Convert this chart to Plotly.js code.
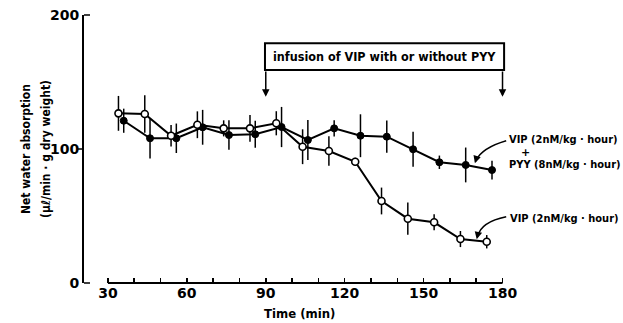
<!DOCTYPE html>
<html><head><meta charset="utf-8">
<script src="https://cdn.plot.ly/plotly-3.0.1.min.js"></script>
<style>body{margin:0;background:#fff}</style>
</head><body><div id="chart" style="width:623px;height:323px"></div>
<script>
// ---- data ----
const timeVIP = [34, 44, 54, 64, 74, 84, 94, 104, 114, 124, 134, 144, 154, 164, 174];
const vipOnly = [126.6, 126.1, 109.9, 118.1, 115.4, 115.4, 119.2, 101.7, 98.5, 90.5, 61.2, 48.0, 45.3, 32.8, 30.8];
const vipOnlyErr = [13, 14, 8, 10, 6, 10, 9, 13, 11, 3, 10, 12, 6, 6, 5];
const timeVIPPYY = [36, 46, 56, 66, 76, 86, 96, 106, 116, 126, 136, 146, 156, 166, 176];
const vipPyy = [121.1, 108.0, 108.0, 116.2, 110.4, 111.0, 116.4, 106.7, 115.4, 109.9, 109.2, 99.8, 90.1, 88.1, 84.3];
const vipPyyErr = [9, 15, 11, 13, 11, 10, 15, 15, 6, 16, 12, 13, 5, 13, 7];
const xTickVals = [30, 40, 50, 60, 70, 80, 90, 100, 110, 120, 130, 140, 150, 160, 170, 180];
const xTickText = ['30', '', '', '60', '', '', '90', '', '', '120', '', '', '150', '', '', '180'];
const yTickVals = [0, 100, 200];
const yTickText = ['0', '100', '200'];
const infusionStart = 90, infusionEnd = 180;
const boxText = 'infusion of VIP with or without PYY';
const labelVipPyy1 = 'VIP (2nM/kg · hour)';
const labelVipPyy2 = 'PYY (8nM/kg · hour)';
const labelVip = 'VIP (2nM/kg · hour)';

// ---- layout helpers ----
const xRange = [20.9, 225.8];
const yRange = [0, 200];
const toPx = t => (t - xRange[0]) / (xRange[1] - xRange[0]);
const toPy = v => (v - yRange[0]) / (yRange[1] - yRange[0]);
const lblFont = {family: 'DejaVu Sans Condensed, DejaVu Sans', size: 11, color: '#000', weight: 'bold'};

const traces = [
  {
    x: timeVIPPYY, y: vipPyy, type: 'scatter', mode: 'lines+markers',
    line: {color: '#000', width: 2},
    marker: {color: '#000', size: 7, line: {color: '#000', width: 1}},
    error_y: {type: 'data', array: vipPyyErr, visible: true, color: '#000', thickness: 1.5, width: 0},
    cliponaxis: false, hoverinfo: 'skip'
  },
  {
    x: timeVIP, y: vipOnly, type: 'scatter', mode: 'lines+markers',
    line: {color: '#000', width: 2},
    marker: {color: '#fff', size: 7, line: {color: '#000', width: 1.6}},
    error_y: {type: 'data', array: vipOnlyErr, visible: true, color: '#000', thickness: 1.5, width: 0},
    cliponaxis: false, hoverinfo: 'skip'
  }
];

const shapes = [
  // x axis line from 30 to 180
  {type: 'line', xref: 'paper', yref: 'paper', x0: toPx(xTickVals[0]), x1: toPx(xTickVals[xTickVals.length-1]), y0: 0, y1: 0, line: {color: '#000', width: 2}},
  // y ticks
  {type: 'line', xref: 'paper', yref: 'paper', xsizemode: 'pixel', xanchor: 0, x0: 0, x1: 6, y0: toPy(200), y1: toPy(200), line: {color: '#000', width: 1.5}},
  {type: 'line', xref: 'paper', yref: 'paper', xsizemode: 'pixel', xanchor: 0, x0: -6, x1: 0, y0: toPy(100), y1: toPy(100), line: {color: '#000', width: 1.5}},
  {type: 'line', xref: 'paper', yref: 'paper', xsizemode: 'pixel', xanchor: 0, x0: 0, x1: 6, y0: toPy(0), y1: toPy(0), line: {color: '#000', width: 1.5}},
  // infusion box
  {type: 'rect', xref: 'x', yref: 'y', x0: infusionStart - 0.3, x1: infusionEnd + 0.6, y0: 159, y1: 179, line: {color: '#000', width: 2}, fillcolor: 'rgba(0,0,0,0)'},
  // curved pointer lines
  {type: 'path', xref: 'x', yref: 'y', path: 'M 181.4,106.2 Q 172.2,100.9 169.9,91.5', line: {color: '#000', width: 1.5}},
  {type: 'path', xref: 'x', yref: 'y', path: 'M 181.4,49.5 Q 171.8,45.6 170.6,35', line: {color: '#000', width: 1.5}}
];

const annotations = [
  {x: infusionStart, y: 139, ax: infusionStart, ay: 159, xref: 'x', yref: 'y', axref: 'x', ayref: 'y', text: '', showarrow: true, arrowhead: 2, arrowsize: 1, arrowwidth: 1.5, arrowcolor: '#000'},
  {x: infusionEnd, y: 139, ax: infusionEnd, ay: 159, xref: 'x', yref: 'y', axref: 'x', ayref: 'y', text: '', showarrow: true, arrowhead: 2, arrowsize: 1, arrowwidth: 1.5, arrowcolor: '#000'},
  {x: (infusionStart + infusionEnd) / 2, y: 169, xref: 'x', yref: 'y', text: boxText, showarrow: false, font: {family: 'DejaVu Sans Condensed, DejaVu Sans', size: 12.5, color: '#000', weight: 'bold'}},
  // pointer heads
  {x: 169.5, y: 89.3, ax: 170.0, ay: 92.5, xref: 'x', yref: 'y', axref: 'x', ayref: 'y', text: '', showarrow: true, arrowhead: 2, arrowsize: 1, arrowwidth: 1.5, arrowcolor: '#000'},
  {x: 170.2, y: 32.6, ax: 170.6, ay: 36, xref: 'x', yref: 'y', axref: 'x', ayref: 'y', text: '', showarrow: true, arrowhead: 2, arrowsize: 1, arrowwidth: 1.5, arrowcolor: '#000'},
  // series labels
  {x: 182.1, y: 107.3, xref: 'x', yref: 'y', xanchor: 'left', yanchor: 'middle', text: labelVipPyy1, showarrow: false, borderpad: 0, font: lblFont},
  {x: 188.6, y: 97.6, xref: 'x', yref: 'y', xanchor: 'center', yanchor: 'middle', text: '+', showarrow: false, borderpad: 0, font: {family: 'DejaVu Sans', size: 11, color: '#000', weight: 'bold'}},
  {x: 182.1, y: 88.2, xref: 'x', yref: 'y', xanchor: 'left', yanchor: 'middle', text: labelVipPyy2, showarrow: false, borderpad: 0, font: lblFont},
  {x: 182.1, y: 48.5, xref: 'x', yref: 'y', xanchor: 'left', yanchor: 'middle', text: labelVip, showarrow: false, font: lblFont},
  // axis titles
  {x: 0, y: 0.5, xref: 'paper', yref: 'paper', xshift: -67, textangle: -90, text: 'Net water absorption', showarrow: false, font: {family: 'DejaVu Sans Condensed, DejaVu Sans', size: 12, color: '#000', weight: 'bold'}},
  {x: 0, y: 0.5, xref: 'paper', yref: 'paper', xshift: -47, textangle: -90, text: '(μℓ/min · g dry weight)', showarrow: false, font: {family: 'DejaVu Sans Condensed, DejaVu Sans', size: 12, color: '#000', weight: 'bold'}},
  {x: 103, y: 0, xref: 'x', yref: 'paper', yshift: -30, yanchor: 'middle', text: 'Time (min)', showarrow: false, font: {family: 'DejaVu Sans Condensed, DejaVu Sans', size: 13, color: '#000', weight: 'bold'}}
];

const layout = {
  width: 623, height: 323,
  margin: {l: 84, r: 0, t: 15, b: 40},
  paper_bgcolor: '#fff', plot_bgcolor: '#fff',
  showlegend: false,
  xaxis: {
    range: xRange, showgrid: false, zeroline: false, showline: false,
    tickmode: 'array', tickvals: xTickVals, ticktext: xTickText,
    ticks: 'inside', ticklen: 5, tickwidth: 1.5, tickcolor: '#000',
    tickfont: {family: 'DejaVu Sans', size: 14, color: '#000', weight: 'bold'}
  },
  yaxis: {
    range: yRange, showgrid: false, zeroline: false, showline: true, linewidth: 2, linecolor: '#000',
    tickmode: 'array', tickvals: yTickVals, ticktext: yTickText, ticks: '',
    tickfont: {family: 'DejaVu Sans', size: 14, color: '#000', weight: 'bold'}
  },
  shapes: shapes,
  annotations: annotations
};

Plotly.newPlot('chart', traces, layout, {staticPlot: true, displayModeBar: false});
</script>
</body></html>
